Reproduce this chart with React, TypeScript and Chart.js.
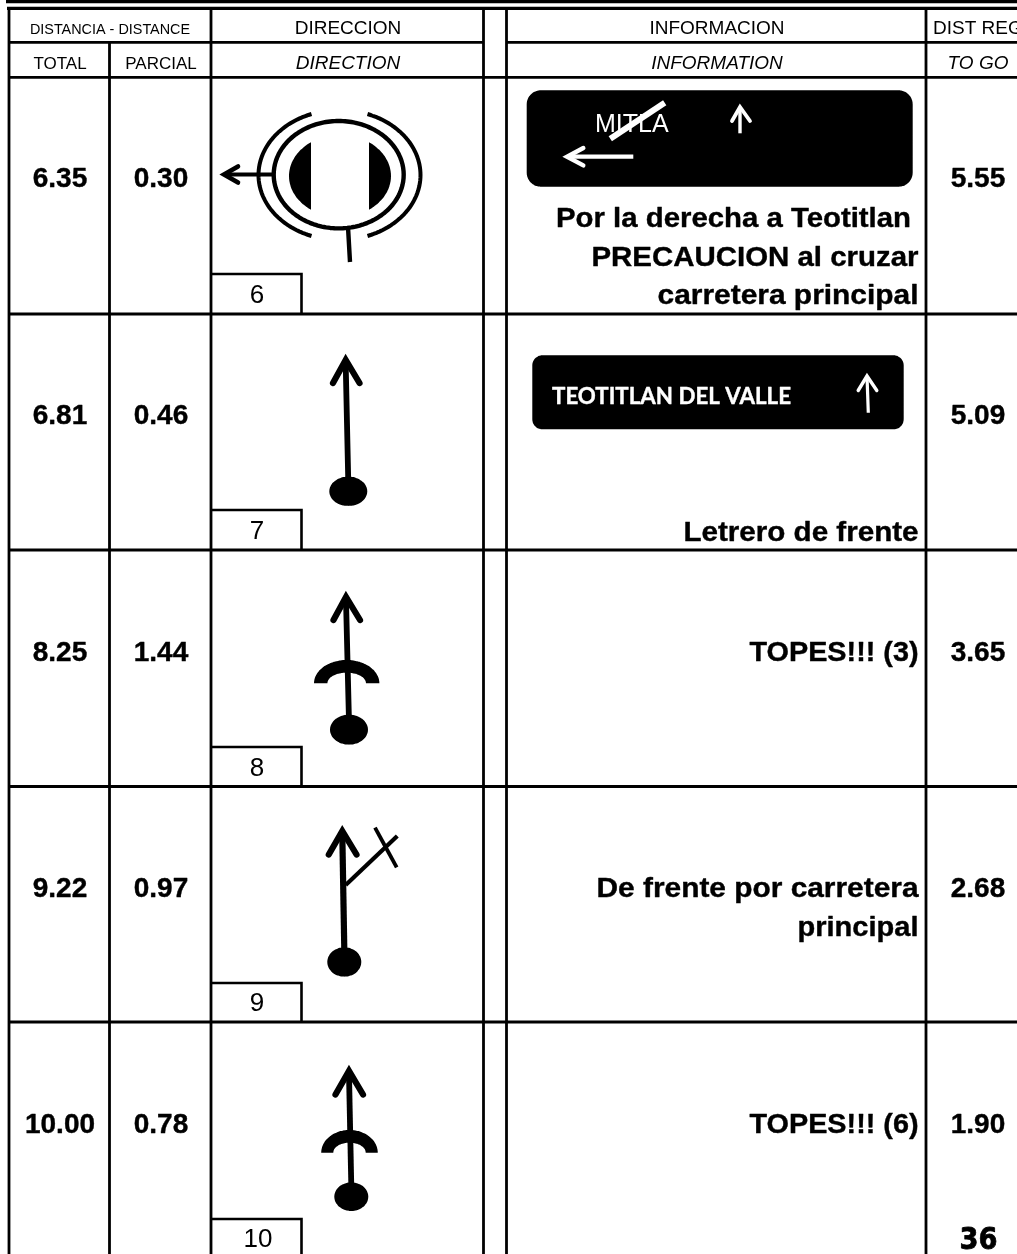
import React, { useEffect, useRef } from "react";
import { Chart, registerables } from "chart.js";

Chart.register(...registerables);

// ---- values ----
const totals = [6.35, 6.81, 8.25, 9.22, 10.0];
const partials = [0.3, 0.46, 1.44, 0.97, 0.78];
const remaining = [5.55, 5.09, 3.65, 2.68, 1.9];
const waypoints = ["6", "7", "8", "9", "10"];
const notes = [
  ["Por la derecha a Teotitlan", "PRECAUCION al cruzar", "carretera principal"],
  ["Letrero de frente"],
  ["TOPES!!! (3)"],
  ["De frente por carretera", "principal"],
  ["TOPES!!! (6)"],
];
const headerTop = ["DISTANCIA - DISTANCE", "DIRECCION", "INFORMACION", "DIST REG"];
const headerBottom = ["TOTAL", "PARCIAL", "DIRECTION", "INFORMATION", "TO GO"];
const signOneLabel = "MITLA";
const signTwoLabel = "TEOTITLAN DEL VALLE";
const pageNumber = "36";

// ---- layout (page units, drawn through the linear scales) ----
const W = 1017;
const H = 1254;
const rowEdges = [77, 314, 550, 786.5, 1022, 1258];
const rowBaselines = [187, 424, 660.5, 897, 1132.5];
const noteRight = [[911, 918.5, 918.5], [918.5], [918.5], [918.5, 918.5], [918.5]];
const noteBaselines = [[227, 265.5, 304], [541], [660.5], [897, 936], [1132.5]];
const noteWidths = [[355, 327, 261], [235], [169], [322, 121], [169]];
const INK = "#000000";
const WHITE = "#ffffff";
const list: any[] = [];

function stroke(pts: number[][], width: number, color = INK, cap = "butt", join = "miter", tension = 0.00001) {
  list.push({
    data: pts.map(([x, y]) => ({ x, y })),
    showLine: true,
    borderColor: color,
    borderWidth: width,
    borderCapStyle: cap,
    borderJoinStyle: join,
    pointRadius: 0,
    tension,
    capBezierPoints: false,
    fill: false,
  });
}
function shape(pts: number[][], color = INK) {
  list.push({
    data: pts.map(([x, y]) => ({ x, y })),
    showLine: true,
    borderColor: color,
    borderWidth: 0,
    backgroundColor: color,
    pointRadius: 0,
    tension: 0.00001,
    capBezierPoints: false,
    fill: "shape",
  });
}
function arc(cx: number, cy: number, rx: number, ry: number, a0: number, a1: number, n = 48) {
  const out: number[][] = [];
  for (let i = 0; i <= n; i++) {
    const a = a0 + ((a1 - a0) * i) / n;
    out.push([cx + rx * Math.cos(a), cy + ry * Math.sin(a)]);
  }
  return out;
}
function roundRect(x0: number, y0: number, x1: number, y1: number, r: number) {
  const P = Math.PI;
  return [
    ...arc(x1 - r, y0 + r, r, r, -P / 2, 0, 10),
    ...arc(x1 - r, y1 - r, r, r, 0, P / 2, 10),
    ...arc(x0 + r, y1 - r, r, r, P / 2, P, 10),
    ...arc(x0 + r, y0 + r, r, r, P, 1.5 * P, 10),
  ];
}
// tension 0 keeps a true miter at the arrow tip
function chevron(tip: number[], a: number[], b: number[], w: number, color = INK) {
  stroke([a, tip, b], w, color, "round", "miter", 0);
}
function dome(cx: number, base: number, ro: number, rho: number, ri: number, rhi: number) {
  const P = Math.PI;
  shape([...arc(cx, base, ro, rho, P, 2 * P, 40), ...arc(cx, base, ri, rhi, 2 * P, P, 40)]);
}

function buildMarks() {
  const P = Math.PI;
  const G = 2.8;
  // top rules
  stroke([[6, 1.6], [W, 1.6]], 3.4);
  stroke([[7, 8.4], [W, 8.4]], 3.2);
  // columns
  stroke([[9, 7], [9, H]], G);
  stroke([[109.5, 42], [109.5, H]], G);
  stroke([[211, 7], [211, H]], G);
  stroke([[483.5, 7], [483.5, H]], G);
  stroke([[506.5, 7], [506.5, H]], G);
  stroke([[926, 7], [926, H]], G);
  // horizontal rules
  stroke([[9, 42.3], [483.5, 42.3]], G);
  stroke([[506.5, 42.3], [W, 42.3]], G);
  stroke([[9, 77.3], [W, 77.3]], G);
  rowEdges.slice(1, 5).forEach((y) => stroke([[9, y], [W, y]], G));
  // waypoint boxes
  [274, 510, 747, 983, 1219].forEach((top, i) => {
    const bottom = rowEdges[i + 1];
    stroke([[211, top], [301.5, top], [301.5, bottom]], 2.6);
  });

  // row 1: roundabout
  stroke(arc(338.7, 174.7, 65, 53.7, 0, 2 * P, 96), 4.4, INK, "round", "round");
  const ga = Math.acos(28 / 81);
  stroke(arc(339.5, 175, 81, 65, P - ga, P + ga, 60), 4);
  stroke(arc(339.5, 175, 81, 65, -ga, ga, 60), 4);
  const halfA = Math.acos(29 / 51);
  shape(arc(340, 176, 51, 41, P - halfA, P + halfA, 30));
  shape(arc(340, 176, 51, 41, -halfA, halfA, 30));
  stroke([[273, 174.5], [226, 174.5]], 3.8);
  chevron([224, 174.5], [238, 166.5], [238, 182.5], 4.6);
  stroke([[348, 227], [350, 262]], 4.4);

  // row 2: straight on
  stroke([[345.7, 364], [348.3, 483]], 5.8);
  chevron([345.7, 360], [333, 383], [359.5, 383], 6.2);
  shape(arc(348.3, 491.3, 19, 14.7, 0, 2 * P, 48));

  // row 3: speed bump
  stroke([[346, 600], [349, 722]], 5.8);
  chevron([346, 597], [333.5, 620], [360, 620], 6.2);
  dome(346.7, 683.3, 32.7, 23.3, 19.3, 10.6);
  shape(arc(349, 729.7, 19, 15, 0, 2 * P, 48));

  // row 4: junction with closed branch
  stroke([[342.3, 834], [344.3, 950]], 6.2);
  chevron([342.3, 831], [328.8, 854.5], [356.5, 854.5], 6.2);
  stroke([[345.7, 885], [397.3, 836]], 4.2);
  stroke([[375, 827.7], [396.7, 867.3]], 3.8);
  shape(arc(344.3, 962, 17, 14.7, 0, 2 * P, 48));

  // row 5: speed bump
  stroke([[349, 1074], [351.3, 1186]], 5.8);
  chevron([349, 1071], [335.5, 1094.5], [363, 1094.5], 6.2);
  dome(349.5, 1152.7, 28.3, 22.7, 16.2, 10);
  shape(arc(351.3, 1196.7, 17, 14.3, 0, 2 * P, 48));

  // sign 1
  shape(roundRect(526.7, 90.3, 912.7, 186.7, 14));
  stroke([[610.3, 138.7], [664.7, 102.7]], 6, WHITE);
  stroke([[740, 133.3], [740, 107]], 3.4, WHITE);
  chevron([740, 107], [732, 121], [750, 121], 3.8, WHITE);
  stroke([[633.3, 156.7], [570, 156.7]], 4.2, WHITE);
  chevron([567, 156.7], [583.3, 148], [583.3, 165.4], 4.4, WHITE);

  // sign 2
  shape(roundRect(532.3, 355.3, 903.7, 429.3, 10));
  stroke([[868.3, 412.7], [867, 376]], 3.2, WHITE);
  chevron([867, 376], [858.2, 390.5], [876.8, 390.5], 3.4, WHITE);
}
buildMarks();

const SANS = '"Liberation Sans", Arial, sans-serif';

const textPlugin = {
  id: "roadbookText",
  afterDatasetsDraw(chart: any) {
    const { ctx, scales } = chart;
    const X = (v: number) => scales.x.getPixelForValue(v);
    const Y = (v: number) => scales.y.getPixelForValue(v);
    const put = (
      s: string,
      x: number,
      y: number,
      font: string,
      align: "left" | "center" | "right" = "center",
      color = INK,
      fitWidth = 0,
      heavy = 0
    ) => {
      ctx.save();
      ctx.font = font;
      ctx.fillStyle = color;
      ctx.strokeStyle = color;
      ctx.textBaseline = "alphabetic";
      ctx.textAlign = align;
      ctx.lineJoin = "round";
      ctx.translate(X(x), Y(y));
      if (fitWidth) {
        const k = fitWidth / ctx.measureText(s).width;
        ctx.scale(k, 1);
      }
      if (heavy) {
        ctx.lineWidth = heavy;
        ctx.strokeText(s, 0, 0);
      }
      ctx.fillText(s, 0, 0);
      ctx.restore();
    };
    const h19 = `19px ${SANS}`;
    const h19i = `italic 19px ${SANS}`;
    put(headerTop[0], 110, 34, `14.4px ${SANS}`);
    put(headerTop[1], 348, 34, h19);
    put(headerTop[2], 717, 34, h19);
    put(headerTop[3], 933, 34, h19, "left");
    put(headerBottom[0], 60, 69, `17px ${SANS}`);
    put(headerBottom[1], 161, 69, `17px ${SANS}`);
    put(headerBottom[2], 348, 69, h19i);
    put(headerBottom[3], 717, 69, h19i);
    put(headerBottom[4], 978, 69, h19i);

    const big = `bold 28px ${SANS}`;
    totals.forEach((v, i) => {
      const base = rowBaselines[i];
      put(v.toFixed(2), 60, base, big, "center", INK, 0, 0.4);
      put(partials[i].toFixed(2), 161, base, big, "center", INK, 0, 0.4);
      put(remaining[i].toFixed(2), 978, base, big, "center", INK, 0, 0.4);
      put(waypoints[i], i === 4 ? 258 : 257, rowEdges[i + 1] - 11, `26px ${SANS}`);
    });
    notes.forEach((lines, i) =>
      lines.forEach((s, j) =>
        put(s, noteRight[i][j], noteBaselines[i][j], big, "right", INK, noteWidths[i][j], 0.4)
      )
    );

    put(signOneLabel, 595, 131.7, `25px ${SANS}`, "left", WHITE);
    put(signTwoLabel, 552, 404, `bold 23px Lato, sans-serif`, "left", WHITE, 239, 0.4);
    put(pageNumber, 978.5, 1249, `bold 30px "DejaVu Sans", sans-serif`, "center", INK, 38, 0.8);
  },
};

export default function App() {
  const ref = useRef<HTMLCanvasElement>(null);
  useEffect(() => {
    const chart = new Chart(ref.current as HTMLCanvasElement, {
      type: "scatter",
      // Chart.js paints the first dataset last, so hand them over back to front
      data: { datasets: [...list].reverse() },
      options: {
        animation: false,
        responsive: false,
        events: [],
        layout: { padding: 0 },
        plugins: { legend: { display: false }, tooltip: { enabled: false } },
        scales: {
          x: { type: "linear", display: false, min: 0, max: W },
          y: { type: "linear", display: false, min: 0, max: H, reverse: true },
        },
      } as any,
      plugins: [textPlugin as any],
    } as any);
    return () => chart.destroy();
  }, []);
  return (
    <canvas
      ref={ref}
      width={W}
      height={H}
      style={{ position: "fixed", left: 0, top: 0, width: W, height: H, background: "#fff" }}
    />
  );
}
